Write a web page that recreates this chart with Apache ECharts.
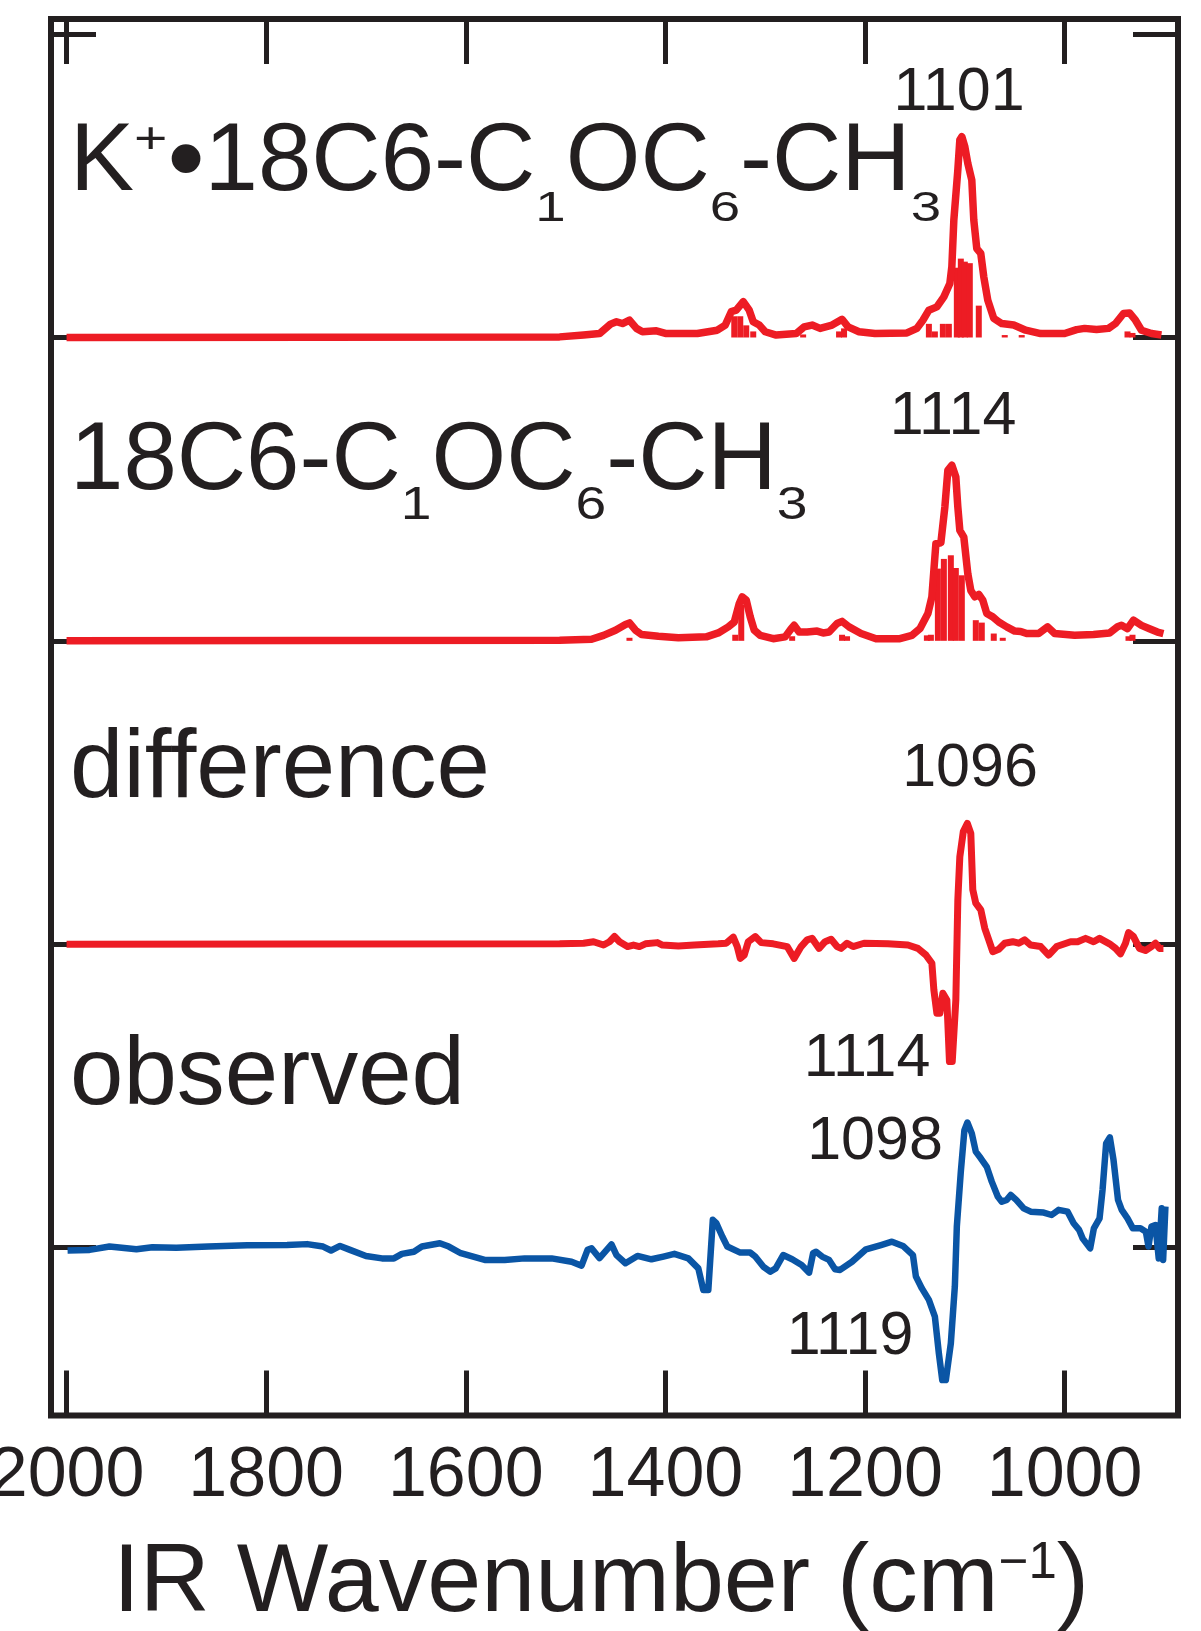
<!DOCTYPE html>
<html>
<head>
<meta charset="utf-8">
<script src="https://cdn.jsdelivr.net/npm/echarts@6/dist/echarts.min.js"></script>
<style>
  html, body { margin: 0; padding: 0; background: #fff; }
  #chart { width: 1201px; height: 1631px; }
</style>
</head>
<body>
<div id="chart"></div>
<script>
var RED = '#ed1c24';
var BLUE = '#0a55a5';
var INK = '#231f20';
var FAMILY = '"Liberation Sans", Arial, Helvetica, sans-serif';

// axis ticks
var xTicks = [2000, 1800, 1600, 1400, 1200, 1000];
var yTicks = [0, 1, 2, 3, 4];

// vertical offsets of the stacked traces
var offObs = 0, offDiff = 1, offFree = 2, offKplus = 3;

// K+•18C6-C1OC6-CH3 calculated spectrum [wavenumber, intensity]
var kplusCurve = [
  [2000, 0], [1506, 0.002], [1482, 0.008], [1466, 0.013], [1455, 0.044], [1449, 0.052], [1443, 0.046],
  [1436, 0.057], [1429, 0.030], [1423, 0.019], [1409, 0.022], [1399, 0.013], [1368, 0.013], [1348, 0.024],
  [1340, 0.041], [1334, 0.085], [1329, 0.090], [1322, 0.118], [1316, 0.090], [1312, 0.052], [1306, 0.041],
  [1300, 0.019], [1289, 0.008], [1269, 0.013], [1261, 0.035], [1253, 0.041], [1245, 0.030], [1233, 0.041],
  [1223, 0.060], [1217, 0.035], [1206, 0.019], [1190, 0.013], [1158, 0.015], [1148, 0.030], [1142, 0.057],
  [1136, 0.090], [1128, 0.101], [1121, 0.134], [1115, 0.178], [1113, 0.233], [1111, 0.387], [1107, 0.552],
  [1105, 0.651], [1103, 0.662], [1100, 0.629], [1097, 0.574], [1093, 0.519], [1091, 0.387], [1088, 0.293],
  [1084, 0.277], [1081, 0.200], [1077, 0.123], [1071, 0.063], [1063, 0.046], [1051, 0.041], [1039, 0.024],
  [1024, 0.013], [1000, 0.013], [988, 0.026], [980, 0.030], [968, 0.026], [956, 0.030], [949, 0.046],
  [941, 0.079], [935, 0.081], [929, 0.057], [923, 0.024], [913, 0.013], [903, 0.008]
];
var kplusSticks = [
  [1331, 0.070], [1325, 0.070], [1319, 0.040], [1312, 0.020], [1262, 0.010], [1226, 0.020], [1221, 0.030],
  [1136, 0.045], [1130, 0.020], [1122, 0.045], [1116, 0.045], [1108, 0.230], [1104, 0.260], [1100, 0.250],
  [1095, 0.245], [1086, 0.105], [1060, 0.008], [1043, 0.008], [937, 0.020], [932, 0.015]
];

// 18C6-C1OC6-CH3 calculated spectrum
var freeCurve = [
  [2000, 0], [1506, 0.002], [1474, 0.005], [1462, 0.018], [1450, 0.035], [1440, 0.054], [1436, 0.059],
  [1430, 0.035], [1424, 0.021], [1407, 0.015], [1387, 0.010], [1359, 0.013], [1347, 0.026], [1337, 0.046],
  [1331, 0.062], [1326, 0.123], [1323, 0.145], [1319, 0.134], [1315, 0.079], [1311, 0.035], [1305, 0.018],
  [1292, 0.007], [1280, 0.013], [1274, 0.040], [1271, 0.051], [1266, 0.029], [1258, 0.029], [1248, 0.032],
  [1242, 0.026], [1236, 0.029], [1228, 0.057], [1223, 0.064], [1216, 0.046], [1204, 0.024], [1189, 0.007],
  [1165, 0.007], [1153, 0.018], [1145, 0.040], [1137, 0.090], [1133, 0.145], [1129, 0.320], [1124, 0.323],
  [1120, 0.441], [1117, 0.562], [1113, 0.579], [1109, 0.540], [1107, 0.441], [1105, 0.364], [1101, 0.342],
  [1097, 0.221], [1094, 0.166], [1090, 0.145], [1086, 0.153], [1082, 0.134], [1078, 0.090], [1072, 0.079],
  [1066, 0.062], [1058, 0.046], [1050, 0.032], [1044, 0.031], [1038, 0.024], [1026, 0.024], [1017, 0.046],
  [1010, 0.024], [990, 0.018], [971, 0.021], [955, 0.026], [947, 0.046], [943, 0.051], [937, 0.040],
  [931, 0.068], [923, 0.051], [915, 0.040], [907, 0.029], [901, 0.024]
];
var freeSticks = [
  [1436, 0.010], [1330, 0.020], [1324, 0.120], [1273, 0.015], [1223, 0.020], [1218, 0.015], [1138, 0.018],
  [1134, 0.020], [1127, 0.238], [1121, 0.270], [1114, 0.282], [1109, 0.240], [1103, 0.216], [1089, 0.068],
  [1083, 0.060], [1071, 0.024], [1062, 0.010], [936, 0.015], [932, 0.020]
];

// difference spectrum
var diffCurve = [
  [2000, 0], [1506, 0.001], [1482, 0.003], [1472, 0.008], [1462, -0.003], [1456, 0.008], [1451, 0.025],
  [1446, 0.008], [1438, -0.008], [1432, -0.003], [1426, -0.008], [1420, 0.001], [1408, 0.005], [1403, -0.003],
  [1387, -0.006], [1371, -0.003], [1347, 0.001], [1339, 0.003], [1332, 0.023], [1328, -0.008], [1325, -0.047],
  [1321, -0.036], [1317, 0.008], [1310, 0.025], [1304, 0.005], [1292, 0.001], [1278, -0.008], [1271, -0.047],
  [1264, -0.008], [1258, 0.014], [1253, 0.019], [1246, -0.014], [1240, 0.008], [1234, 0.016], [1228, -0.008],
  [1224, -0.014], [1218, 0.003], [1212, -0.008], [1201, 0.003], [1177, 0.001], [1157, -0.003], [1147, -0.014],
  [1139, -0.036], [1133, -0.063], [1131, -0.151], [1128, -0.228], [1125, -0.228], [1122, -0.162], [1118, -0.184],
  [1115.4, -0.387], [1112.6, -0.387], [1109, -0.184], [1107, 0.146], [1105, 0.288], [1101.5, 0.371],
  [1097.5, 0.398], [1094, 0.365], [1092, 0.179], [1089, 0.135], [1084, 0.113], [1080, 0.052], [1076, 0.014],
  [1072, -0.025], [1066, -0.017], [1060, 0.003], [1052, 0.008], [1046, 0.003], [1040, 0.014], [1034, -0.003],
  [1024, -0.008], [1016, -0.036], [1008, -0.008], [994, 0.008], [987, 0.008], [979, 0.019], [971, 0.008],
  [965, 0.019], [955, 0.001], [949, -0.014], [944, -0.032], [939, 0.003], [936, 0.038], [931, 0.025],
  [925, -0.014], [919, -0.021], [913, -0.008], [909, 0.003], [905, -0.014], [901, -0.014]
];

// observed spectrum
var obsCurve = [
  [1999, -0.010], [1977, -0.008], [1957, 0.003], [1930, -0.006], [1914, 0.001], [1890, -0.001], [1858, 0.003],
  [1819, 0.007], [1779, 0.008], [1759, 0.011], [1743, 0.003], [1735, -0.010], [1726, 0.005], [1716, -0.008],
  [1700, -0.028], [1684, -0.036], [1672, -0.036], [1664, -0.021], [1652, -0.014], [1644, 0.003], [1626, 0.014],
  [1617, 0.003], [1605, -0.019], [1581, -0.041], [1561, -0.041], [1541, -0.036], [1514, -0.036], [1494, -0.047],
  [1484, -0.060], [1478, -0.008], [1474, -0.003], [1466, -0.035], [1454, 0.010], [1449, -0.025], [1440, -0.052],
  [1428, -0.028], [1414, -0.039], [1402, -0.030], [1391, -0.021], [1377, -0.036], [1367, -0.069], [1362, -0.140],
  [1357, -0.140], [1352.5, 0.091], [1349, 0.080], [1343, 0.036], [1338, 0.003], [1325, -0.017], [1315, -0.017],
  [1310, -0.030], [1302, -0.063], [1295, -0.080], [1289.5, -0.069], [1282, -0.025], [1273, -0.039],
  [1263.5, -0.058], [1256, -0.083], [1252, -0.019], [1249, -0.014], [1243, -0.030], [1236, -0.041],
  [1230, -0.072], [1225, -0.074], [1213, -0.047], [1199, -0.006], [1184, 0.008], [1173, 0.019], [1162, 0.005],
  [1152, -0.025], [1149, -0.096], [1143, -0.135], [1136, -0.173], [1130, -0.228], [1126, -0.349],
  [1122.6, -0.437], [1119, -0.437], [1114, -0.316], [1110, -0.129], [1108, 0.069], [1104, 0.250],
  [1100.4, 0.387], [1097.4, 0.412], [1093, 0.376], [1089, 0.316], [1084, 0.294], [1078, 0.266], [1073, 0.217],
  [1067, 0.168], [1063, 0.151], [1058, 0.157], [1054, 0.173], [1048.5, 0.157], [1041, 0.129], [1034, 0.118],
  [1021, 0.115], [1013, 0.107], [1006, 0.124], [997, 0.118], [991, 0.080], [985.5, 0.058], [982, 0.030],
  [974.4, -0.003], [970.7, 0.063], [965, 0.096], [962, 0.190], [958.4, 0.343], [954.7, 0.363], [951, 0.288],
  [946.5, 0.157], [942.8, 0.124], [937, 0.096], [931.6, 0.063], [924, 0.063], [918.6, 0.052], [916, 0.003],
  [913, 0.069], [909, 0.074], [905.7, -0.036], [902.7, 0.129], [901.3, -0.041], [899, 0.135]
];

function shift(arr, off) {
  return arr.map(function (p) { return [p[0], p[1] + off]; });
}
function stickData(arr, off) {
  return arr.map(function (p) { return [p[0], p[1], off]; });
}

function renderStick(params, api) {
  var base = api.coord([api.value(0), api.value(2)]);
  var top = api.coord([api.value(0), api.value(2) + api.value(1)]);
  return {
    type: 'rect',
    shape: { x: base[0] - 3, y: top[1], width: 6, height: base[1] - top[1] },
    style: { fill: RED }
  };
}

// text measuring for the sub/superscript labels
var measureCtx = document.createElement('canvas').getContext('2d');
function textWidth(t, size) {
  measureCtx.font = size + 'px ' + FAMILY;
  return measureCtx.measureText(t).width;
}
var MID = 0.26; // glyph middle above the baseline, in em
// text element placed by its alphabetic baseline
function txt(t, x, base, size, align, sx) {
  return {
    type: 'text', x: x, y: base - MID * size, scaleX: sx || 1, silent: true,
    style: {
      text: t, font: size + 'px ' + FAMILY, fill: INK,
      textAlign: align || 'left', textVerticalAlign: 'middle'
    }
  };
}
// parts: [text, kind, sizeOverride, dyOverride]  kind: n | sub | sup ; small glyphs are set wide
function chemLabel(parts, x, base, size, small, smallSx, subDy, supDy) {
  var els = [];
  parts.forEach(function (p) {
    var kind = p[1] || 'n';
    var isSmall = kind !== 'n';
    var s = p[2] || (isSmall ? small : size);
    var sx = isSmall ? smallSx : 1;
    var dy = kind === 'sub' ? subDy : (kind === 'sup' ? -supDy : 0);
    els.push(txt(p[0], x, base + dy + (p[3] || 0), s, 'left', sx));
    x += textWidth(p[0], s) * sx;
  });
  return els;
}

var titleParts = [['IR Wavenumber (cm'], ['\u22121', 'sup'], [')']];
var titleEls = (function () {
  var size = 97, small = 51;
  var w = 0;
  titleParts.forEach(function (p) { w += textWidth(p[0], p[1] === 'sup' ? small : size); });
  var x = 601 - w / 2, els = [];
  titleParts.forEach(function (p) {
    var sup = p[1] === 'sup';
    var s = sup ? small : size;
    els.push(txt(p[0], x, sup ? 1577 : 1609, s));
    x += textWidth(p[0], s);
  });
  return els;
})();

var graphics = []
  .concat(chemLabel([['K'], ['+', 'sup', 44], ['\u2022', 'n', 106, 4], ['18C6-C'], ['1', 'sub'], ['OC'], ['6', 'sub'], ['-CH'], ['3', 'sub']],
    70, 188, 96, 42, 1.3, 32, 36))
  .concat(chemLabel([['18C6-C'], ['1', 'sub'], ['OC'], ['6', 'sub'], ['-CH'], ['3', 'sub']],
    70, 487, 96, 46, 1.2, 31, 0))
  .concat([
    txt('difference', 70, 795, 96),
    txt('observed', 70, 1102, 96),
    txt('1101', 959, 109, 61, 'center'),
    txt('1114', 953, 433, 61, 'center'),
    txt('1096', 970, 785, 61, 'center'),
    txt('1114', 867, 1075, 61, 'center'),
    txt('1098', 875, 1158, 61, 'center'),
    txt('1119', 850, 1353, 61, 'center')
  ])
  .concat(titleEls);

var tickStyle = { color: INK, width: 5 };

var chart = echarts.init(document.getElementById('chart'));
chart.setOption({
  animation: false,
  backgroundColor: '#fff',
  grid: {
    left: 51, top: 19, width: 1127, height: 1396.5,
    show: true, borderColor: INK, borderWidth: 6, backgroundColor: 'transparent',
    outerBoundsMode: 'none'
  },
  xAxis: [
    {
      type: 'value', position: 'bottom', inverse: true, min: 886.4, max: 2015.6,
      axisLine: { show: false, onZero: false },
      axisTick: { show: true, inside: true, length: 45, customValues: xTicks, lineStyle: tickStyle },
      axisLabel: {
        show: true, customValues: xTicks, margin: 26,
        fontSize: 70, fontFamily: FAMILY, color: INK,
        formatter: function (v) { return String(v); }
      },
      splitLine: { show: false }
    },
    {
      type: 'value', position: 'top', inverse: true, min: 886.4, max: 2015.6,
      axisLine: { show: false, onZero: false },
      axisTick: { show: true, inside: true, length: 45, customValues: xTicks, lineStyle: tickStyle },
      axisLabel: { show: false },
      splitLine: { show: false }
    }
  ],
  yAxis: [
    {
      type: 'value', position: 'left', min: -0.554, max: 4.05,
      axisLine: { show: false, onZero: false },
      axisTick: { show: true, inside: true, length: 45, customValues: yTicks, lineStyle: tickStyle },
      axisLabel: { show: false },
      splitLine: { show: false }
    },
    {
      type: 'value', position: 'right', min: -0.554, max: 4.05,
      axisLine: { show: false, onZero: false },
      axisTick: { show: true, inside: true, length: 45, customValues: yTicks, lineStyle: tickStyle },
      axisLabel: { show: false },
      splitLine: { show: false }
    }
  ],
  series: [
    { type: 'custom', renderItem: renderStick, data: stickData(kplusSticks, offKplus), z: 3 },
    { type: 'custom', renderItem: renderStick, data: stickData(freeSticks, offFree), z: 3 },
    {
      type: 'line', data: shift(kplusCurve, offKplus), showSymbol: false, z: 4,
      lineStyle: { color: RED, width: 7.5, join: 'round' }
    },
    {
      type: 'line', data: shift(freeCurve, offFree), showSymbol: false, z: 4,
      lineStyle: { color: RED, width: 7.5, join: 'round' }
    },
    {
      type: 'line', data: shift(diffCurve, offDiff), showSymbol: false, z: 4,
      lineStyle: { color: RED, width: 7, join: 'round' }
    },
    {
      type: 'line', data: shift(obsCurve, offObs), showSymbol: false, z: 4,
      lineStyle: { color: BLUE, width: 6.5, join: 'round' }
    }
  ],
  graphic: { elements: graphics }
});
</script>
</body>
</html>
